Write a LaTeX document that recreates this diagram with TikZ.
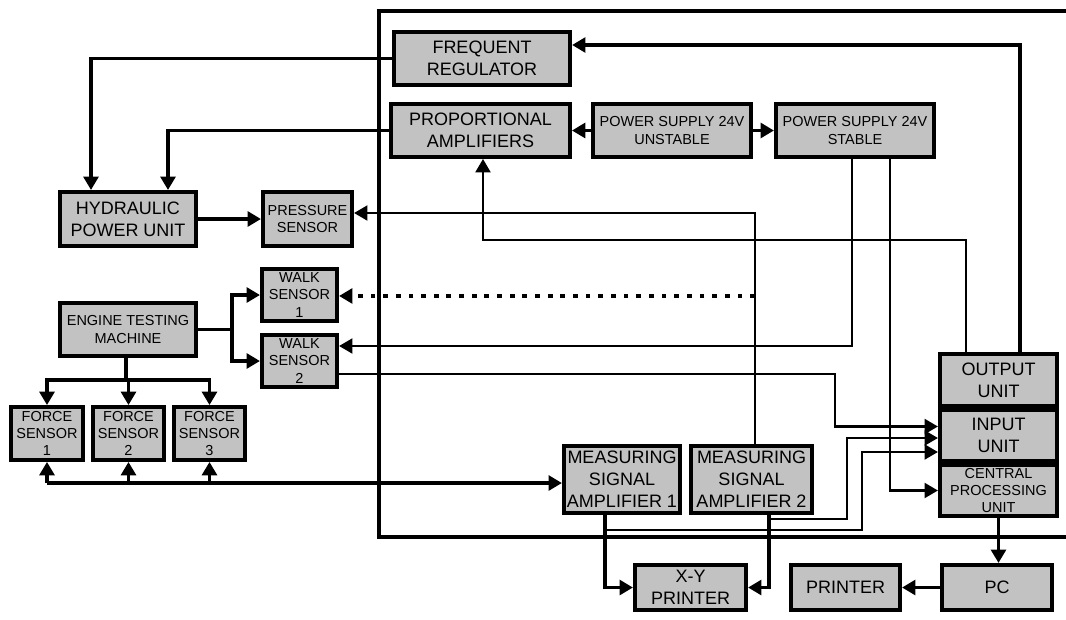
\documentclass[tikz,border=0pt]{standalone}
\usepackage{fontspec}
\setmainfont{Liberation Sans}
\usetikzlibrary{arrows.meta,calc}
\definecolor{boxgray}{RGB}{194,194,194}
\newcommand{\bigtxt}{\fontsize{12.8}{15.5}\selectfont}
\newcommand{\smalltxt}{\fontsize{10.3}{12.4}\selectfont}

\begin{document}
\begin{tikzpicture}[x=0.025cm, y=-0.025cm,
    >={Triangle[length=9.5pt,width=10.5pt]},
    unit/.style={draw=black, line width=2.6pt, fill=boxgray, align=center,
      inner sep=1pt, minimum height=1.33cm, font=\bigtxt},
    thk/.style={line width=2.8pt},
    thn/.style={line width=1.9pt},
    dotline/.style={line width=3.4pt, dash pattern=on 3.4pt off 5.6pt},
    casing/.style={line width=2.3pt}]
    \useasboundingbox (0,0) rectangle (1066,619);
    \draw[casing] (1066,11) -| (379,537) -- (1066,537);

    % blocks
    \node[unit, minimum width=4.41cm] (freq) at (482,58.5) {FREQUENT\\REGULATOR};
    \node[unit, minimum width=4.48cm] (prop) at (480.5,130.5) {PROPORTIONAL\\AMPLIFIERS};
    \node[unit, minimum width=3.96cm, font=\smalltxt] (unst) at (672,130.5) {POWER SUPPLY 24V\\UNSTABLE};
    \node[unit, minimum width=3.96cm, font=\smalltxt] (stab) at (855,130.5) {POWER SUPPLY 24V\\STABLE};
    \node[unit, minimum width=3.41cm, minimum height=1.36cm] (hyd) at (128,219) {HYDRAULIC\\POWER UNIT};
    \node[unit, minimum width=2.235cm, minimum height=1.36cm, font=\smalltxt] (pres) at (307.5,219) {PRESSURE\\SENSOR};
    \node[unit, minimum width=1.885cm, minimum height=1.31cm, font=\smalltxt] (walk1) at (299.5,295) {WALK\\SENSOR\\1};
    \node[unit, minimum width=1.885cm, minimum height=1.31cm, font=\smalltxt] (walk2) at (299.5,361) {WALK\\SENSOR\\2};
    \node[unit, minimum width=3.41cm, font=\smalltxt] (eng) at (128,329.5) {ENGINE TESTING\\MACHINE};
    \foreach \i/\x in {1/47,2/128.5,3/209.5}{
      \node[unit, minimum width=1.79cm, font=\smalltxt] (f\i) at (\x,433.5) {FORCE\\SENSOR\\\i};
    }
    \node[unit, minimum width=2.91cm, minimum height=1.685cm] (msa1) at (622,479.5) {MEASURING\\SIGNAL\\AMPLIFIER 1};
    \node[unit, minimum width=3.035cm, minimum height=1.685cm] (msa2) at (751.5,479.5) {MEASURING\\SIGNAL\\AMPLIFIER 2};
    \node[unit, minimum width=2.935cm, minimum height=1.31cm] (out) at (998.5,380) {OUTPUT\\UNIT};
    \node[unit, minimum width=2.935cm, minimum height=1.285cm] (inp) at (998.5,435.5) {INPUT\\UNIT};
    \node[unit, minimum width=2.935cm, minimum height=1.285cm, font=\smalltxt] (cpu) at (998.5,490.5) {CENTRAL\\PROCESSING\\UNIT};
    \node[unit, minimum width=2.785cm, minimum height=1.135cm] (xy) at (690.5,587.5) {X-Y\\PRINTER};
    \node[unit, minimum width=2.735cm, minimum height=1.135cm] (prn) at (845.5,587.5) {PRINTER};
    \node[unit, minimum width=2.76cm, minimum height=1.135cm] (pc) at (997,587.5) {PC};

    % hydraulic side
    \draw[thk,->] (freq.west) -| ($(hyd.north)+(-37,0)$);
    \draw[thk,->] (prop.west) -| ($(hyd.north)+(40,0)$);
    \draw[thk,->] (hyd.east) -- (pres.west);
    \draw[thn,->] ($(msa2.north)+(3.5,0)$) |- ($(pres.east)+(0,-6)$);
    \draw[thk,->] (unst.west) -- (prop.east);
    \draw[thk,->] (unst.east) -- (stab.west);
    \draw[thk,->] ($(out.north)+(21.5,0)$) |- ($(freq.east)+(0,-13.5)$);
    \draw[thn,->] ($(out.north)+(-32.5,0)$) |- ($(prop.south)+(2.5,81)$) -- ($(prop.south)+(2.5,0)$);

    % walk sensors
    \coordinate (dotend) at ($(msa2.north)+(3.5,-148)$);
    \draw[dotline,->] (dotend) -- (dotend -| walk1.east);
    \draw[thn,->] ($(stab.south)+(-3,0)$) |- ($(walk2.east)+(0,-15)$);
    \draw[thn,->] ($(stab.south)+(35,0)$) |- (cpu.west);
    \draw[thn,->] ($(walk2.east)+(0,13)$) -| ($(inp.west)+(-103,-9)$) -- ($(inp.west)+(0,-9)$);

    % engine and force sensors
    \coordinate (split) at ($(eng.east)+(34,0)$);
    \draw[thk] (eng.east) -- (split);
    \draw[thk,->] (split) |- (walk1.west);
    \draw[thk,->] (split) |- (walk2.west);
    \coordinate (fork) at ($(eng.south)+(-2,22)$);
    \draw[thk] ($(eng.south)+(-2,0)$) -- (fork);
    \foreach \f in {f1,f2,f3}{
      \draw[thk,->] (fork) -| (\f.north);
    }
    \coordinate (bus) at ($(msa1.west)+(0,3.5)$);
    \draw[thk,->] (bus -| f1.south) -- (bus);
    \foreach \f in {f1,f2,f3}{
      \draw[thk,->] (bus -| \f.south) -- (\f.south);
    }

    % amplifiers, printers, computer
    \draw[thk,->] ($(msa1.south)+(-17,0)$) |- (xy.west);
    \draw[thk,->] ($(msa2.south)+(17.5,0)$) |- (xy.east);
    \draw[thn,->] ($(msa2.south)+(17.5,4)$) -| ($(inp.west)+(-91,2.5)$) -- ($(inp.west)+(0,2.5)$);
    \draw[thn,->] ($(msa1.south)+(-17,15)$) -| ($(inp.west)+(-76,16.5)$) -- ($(inp.west)+(0,16.5)$);
    \draw[thk,->] (cpu.south) -- (cpu.south |- pc.north);
    \draw[thk,->] (pc.west) -- (prn.east);
  \end{tikzpicture}
\end{document}
